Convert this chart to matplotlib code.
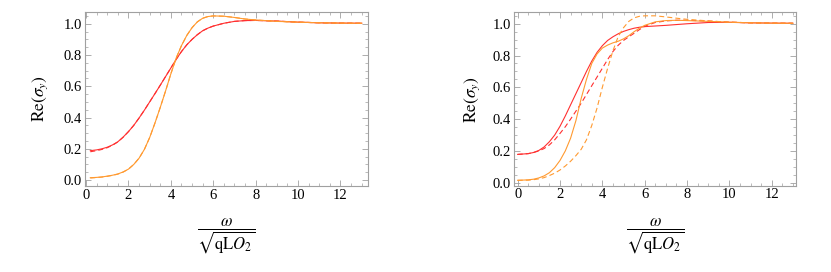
import numpy as np
import matplotlib
matplotlib.use("Agg")
import matplotlib.pyplot as plt
from matplotlib.ticker import MultipleLocator, FormatStrFormatter

plt.rcParams["font.family"] = ["Liberation Serif", "DejaVu Serif"]
plt.rcParams["mathtext.fontset"] = "stix"

# ---- data ----
x_left = [0.2, 0.5, 0.75, 1.0, 1.25, 1.5, 1.75, 2.0, 2.25, 2.5, 2.75, 3.0, 3.25, 3.5, 3.75,
          4.0, 4.25, 4.5, 4.75, 5.0, 5.25, 5.5, 5.75, 6.0, 6.5, 7.0, 7.5, 8.0, 9.0, 10.0,
          11.0, 12.0, 13.0]
left_red = [0.188, 0.193, 0.2, 0.21, 0.225, 0.245, 0.275, 0.31, 0.35, 0.397, 0.447, 0.50,
            0.553, 0.607, 0.662, 0.717, 0.772, 0.822, 0.865, 0.9, 0.93, 0.955, 0.972, 0.985,
            1.003, 1.015, 1.02, 1.021, 1.017, 1.01, 1.006, 1.004, 1.003]
left_red_dash = [0.181, 0.188, 0.196, 0.207, 0.223, 0.244, 0.274, 0.31, 0.35, 0.397, 0.447,
                 0.50, 0.553, 0.607, 0.662, 0.717, 0.772, 0.822, 0.865, 0.9, 0.93, 0.955, 0.972,
                 0.985, 1.003, 1.015, 1.02, 1.021, 1.017, 1.01, 1.006, 1.004, 1.003]
left_orange = [0.015, 0.017, 0.02, 0.025, 0.031, 0.039, 0.052, 0.07, 0.1, 0.14, 0.196,
               0.272, 0.365, 0.465, 0.57, 0.68, 0.78, 0.86, 0.925, 0.975, 1.012, 1.035, 1.046,
               1.05, 1.048, 1.04, 1.03, 1.024, 1.015, 1.01, 1.006, 1.004, 1.003]
left_orange_dash = [0.013, 0.016, 0.019, 0.024, 0.03, 0.038, 0.051, 0.07, 0.1, 0.14, 0.196,
                    0.272, 0.365, 0.465, 0.57, 0.68, 0.78, 0.86, 0.925, 0.975, 1.012, 1.035,
                    1.046, 1.05, 1.048, 1.04, 1.03, 1.024, 1.015, 1.01, 1.006, 1.004, 1.003]

x_right = [0.0, 0.5, 0.75, 1.0, 1.25, 1.5, 1.75, 2.0, 2.25, 2.5, 2.75, 3.0, 3.25, 3.5, 3.75,
           4.0, 4.25, 4.5, 4.75, 5.0, 5.25, 5.5, 5.75, 6.0, 6.5, 7.0, 7.5, 8.0, 9.0, 10.0,
           11.0, 12.0, 13.0]
right_red = [0.178, 0.183, 0.19, 0.203, 0.225, 0.258, 0.30, 0.355, 0.42, 0.49, 0.56, 0.63,
             0.70, 0.765, 0.82, 0.862, 0.895, 0.918, 0.937, 0.952, 0.963, 0.972, 0.978,
             0.982, 0.986, 0.99, 0.995, 1.0, 1.008, 1.009, 1.006, 1.004, 1.003]
right_red_dash = [0.178, 0.183, 0.19, 0.20, 0.215, 0.238, 0.27, 0.31, 0.352, 0.40, 0.45, 0.50,
                  0.555, 0.61, 0.665, 0.72, 0.775, 0.825, 0.865, 0.895, 0.918, 0.94, 0.963,
                  0.985, 1.008, 1.018, 1.022, 1.022, 1.017, 1.01, 1.006, 1.004, 1.003]
right_orange = [0.015, 0.018, 0.022, 0.03, 0.043, 0.063, 0.095, 0.14, 0.20, 0.28, 0.39, 0.53,
                0.65, 0.75, 0.81, 0.847, 0.866, 0.88, 0.89, 0.905, 0.925, 0.95, 0.972, 0.99,
                1.012, 1.02, 1.022, 1.02, 1.015, 1.01, 1.006, 1.004, 1.003]
right_orange_dash = [0.015, 0.016, 0.019, 0.024, 0.032, 0.045, 0.06, 0.08, 0.105, 0.135, 0.17,
                     0.21, 0.27, 0.36, 0.47, 0.60, 0.72, 0.83, 0.92, 0.975, 1.015, 1.037,
                     1.047, 1.05, 1.05, 1.043, 1.035, 1.028, 1.018, 1.01, 1.006, 1.004, 1.003]

RED = "#ff3030"
ORANGE = "#ff9a30"
FRAME = "#a0a0a0"

fig = plt.figure(figsize=(8.31, 2.72), dpi=100)
ax1 = fig.add_axes([0.1023, 0.3162, 0.3406, 0.6397])
ax2 = fig.add_axes([0.6185, 0.3172, 0.3394, 0.6375])

panels = [
    (ax1, x_left, [left_red, left_red_dash, left_orange, left_orange_dash],
     (-0.05, 13.3), (-0.038, 1.075), -0.124),
    (ax2, x_right, [right_red, right_red_dash, right_orange, right_orange_dash],
     (-0.175, 13.15), (-0.019, 1.072), -0.113),
]

for ax, xs, (r, rd, o, od), xl, yl, ylx in panels:
    ax.plot(xs, r, color=RED, lw=0.8)
    ax.plot(xs, rd, color=RED, lw=0.8, ls=(0, (4.5, 2.8)))
    ax.plot(xs, o, color=ORANGE, lw=0.8)
    ax.plot(xs, od, color=ORANGE, lw=0.8, ls=(0, (4.5, 2.8)))
    ax.set_xlim(*xl)
    ax.set_ylim(*yl)
    ax.xaxis.set_major_locator(MultipleLocator(2))
    ax.xaxis.set_minor_locator(MultipleLocator(0.5))
    ax.yaxis.set_major_locator(MultipleLocator(0.2))
    ax.yaxis.set_minor_locator(MultipleLocator(0.05))
    ax.yaxis.set_major_formatter(FormatStrFormatter("%.1f"))
    ax.tick_params(which="both", direction="in", top=True, right=True, color=FRAME,
                   labelsize=10.5, pad=2)
    ax.tick_params(which="major", length=4, width=0.6)
    ax.tick_params(which="minor", length=2, width=0.5)
    for s in ax.spines.values():
        s.set_color(FRAME)
        s.set_linewidth(0.8)
    ax.set_ylabel(r"$\mathrm{Re}\left(\sigma_y\right)$", fontsize=12.5)
    ax.yaxis.set_label_coords(ylx, 0.5)
    ax.text(0.5, -0.29, r"$\dfrac{\omega}{\sqrt{\mathrm{qL}O_2}}$", transform=ax.transAxes,
            ha="center", va="center", fontsize=12)

fig.savefig("out.png", dpi=100)
